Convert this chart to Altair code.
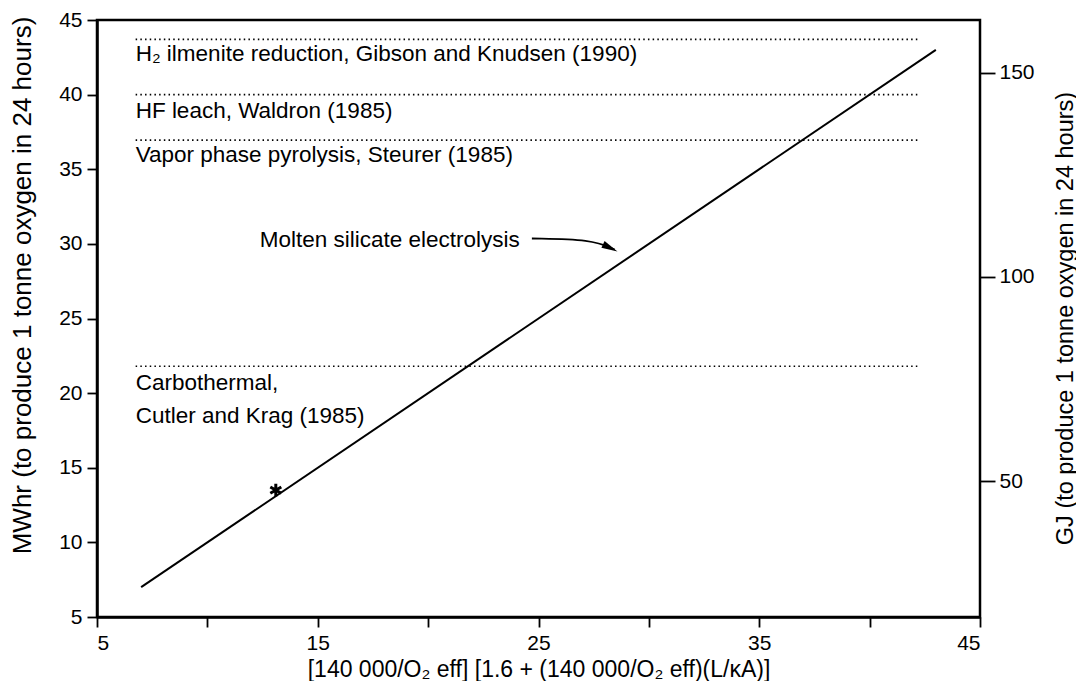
import altair as alt
import pandas as pd

FONT = "Liberation Sans"

# Main diagonal (molten silicate electrolysis)
line_x = [7, 43]
line_y = [7, 43]

# Reference processes (horizontal dotted lines)
ref_names = ["H2 ilmenite", "HF leach", "Vapor phase", "Carbothermal"]
ref_y = [43.7, 40.0, 36.95, 21.8]
ref_x_start = [6.75, 6.75, 6.75, 6.75]
ref_x_end = [42.3, 42.3, 42.3, 42.3]

# Labels
label_text = [
    "H\u2082 ilmenite reduction, Gibson and Knudsen (1990)",
    "HF leach, Waldron (1985)",
    "Vapor phase pyrolysis, Steurer (1985)",
    "Carbothermal,",
    "Cutler and Krag (1985)",
]
label_x = [6.75, 6.75, 6.75, 6.75, 6.75]
label_y = [42.75, 38.9, 35.95, 20.65, 18.45]

# Arrow annotation
arrow_label = "Molten silicate electrolysis"
arrow_label_x = 24.15
arrow_label_y = 30.25
arrow_x = [24.7, 27.4, 28.45]
arrow_y = [30.36, 30.30, 29.62]
arrow_order = [0, 1, 2]
arrow_head_x = [28.25]
arrow_head_y = [29.73]

# Asterisk point
star_x = [13.1]
star_y = [13.5]

# Axis ticks
x_ticks = [5, 10, 15, 20, 25, 30, 35, 40, 45]
y_ticks = [5, 10, 15, 20, 25, 30, 35, 40, 45]
gj_ticks = [50, 100, 150]
gj_domain = [16.7, 162.9]

x_title = "[140 000/O\u2082 eff] [1.6 + (140 000/O\u2082 eff)(L/\u03baA)]"
y_title = "MWhr (to produce 1 tonne oxygen in 24 hours)"
gj_title = "GJ (to produce 1 tonne oxygen in 24 hours)"

xs = alt.Scale(domain=[5, 45], nice=False, zero=False)
ys = alt.Scale(domain=[5, 45], nice=False, zero=False)

x_axis = alt.Axis(
    values=x_ticks,
    labelExpr="datum.value % 10 == 5 ? datum.label : ''",
    title=x_title,
    tickSize=10, tickWidth=1.8, tickColor="black",
    domainColor="black", domainWidth=2.5,
    labelFont=FONT, labelFontSize=21, labelColor="black", labelPadding=5,
    titleFont=FONT, titleFontSize=23, titleFontWeight="normal", titleColor="black",
    titleY=52, titleBaseline="middle", grid=False,
)
y_axis = alt.Axis(
    values=y_ticks,
    title=y_title,
    tickSize=10, tickWidth=1.8, tickColor="black",
    domainColor="black", domainWidth=2.5,
    labelFont=FONT, labelFontSize=21, labelColor="black", labelPadding=5,
    titleFont=FONT, titleFontSize=26, titleFontWeight="normal", titleColor="black",
    titleX=-75, titleY=265, titleAngle=270, titleAlign="center", titleBaseline="middle",
    grid=False,
)

line_df = pd.DataFrame({"x": line_x, "y": line_y})
line = alt.Chart(line_df).mark_line(color="black", strokeWidth=2).encode(
    x=alt.X("x:Q", scale=xs, axis=x_axis),
    y=alt.Y("y:Q", scale=ys, axis=y_axis),
)

ref_df = pd.DataFrame({"name": ref_names, "y": ref_y, "x": ref_x_start, "x2": ref_x_end})
refs = alt.Chart(ref_df).mark_rule(color="black", strokeWidth=1.6, strokeDash=[1.5, 3.2]).encode(
    x=alt.X("x:Q", scale=xs), x2="x2:Q", y=alt.Y("y:Q", scale=ys)
)

lab_df = pd.DataFrame({"t": label_text, "x": label_x, "y": label_y})
labels = alt.Chart(lab_df).mark_text(
    align="left", baseline="middle", font=FONT, fontSize=22.5, color="black"
).encode(x=alt.X("x:Q", scale=xs), y=alt.Y("y:Q", scale=ys), text="t:N")

arrow_lab_df = pd.DataFrame({"t": [arrow_label], "x": [arrow_label_x], "y": [arrow_label_y]})
arrow_lab = alt.Chart(arrow_lab_df).mark_text(
    align="right", baseline="middle", font=FONT, fontSize=22.5, color="black"
).encode(x=alt.X("x:Q", scale=xs), y=alt.Y("y:Q", scale=ys), text="t:N")

arrow_df = pd.DataFrame({"x": arrow_x, "y": arrow_y, "o": arrow_order})
arrow = alt.Chart(arrow_df).mark_line(color="black", strokeWidth=1.8, interpolate="basis").encode(
    x=alt.X("x:Q", scale=xs), y=alt.Y("y:Q", scale=ys), order="o:Q"
)
head_df = pd.DataFrame({"x": arrow_head_x, "y": arrow_head_y})
head = alt.Chart(head_df).mark_point(
    shape="M-1,-0.45L1,0L-1,0.45Z", angle=26, size=260, filled=True, color="black", opacity=1
).encode(x=alt.X("x:Q", scale=xs), y=alt.Y("y:Q", scale=ys))

star_df = pd.DataFrame({"x": star_x, "y": star_y})
star = alt.Chart(star_df).mark_point(
    shape="M0,-1L0,1M-0.87,-0.5L0.87,0.5M-0.87,0.5L0.87,-0.5",
    size=160, strokeWidth=3, color="black", filled=False, opacity=1,
).encode(x=alt.X("x:Q", scale=xs), y=alt.Y("y:Q", scale=ys))

gj_df = pd.DataFrame({"g": gj_ticks})
gj = alt.Chart(gj_df).mark_point(opacity=0).encode(
    y=alt.Y(
        "g:Q",
        scale=alt.Scale(domain=gj_domain, nice=False, zero=False),
        axis=alt.Axis(
            orient="right", values=gj_ticks, title=gj_title,
            tickSize=15, tickWidth=1.8, tickColor="black",
            domain=False,
            labelFont=FONT, labelFontSize=21, labelColor="black", labelPadding=4,
            titleFont=FONT, titleFontSize=23.5, titleFontWeight="normal", titleColor="black",
            titleAngle=270, titleX=85, titleY=298, titleAlign="center", titleBaseline="middle",
            grid=False,
        ),
    )
)

main = alt.layer(refs, line, arrow, head, star, labels, arrow_lab)
chart = (
    alt.layer(main, gj)
    .resolve_scale(y="independent")
    .properties(
        width=883, height=597,
        autosize=alt.AutoSizeParams(type="none"),
        padding={"left": 89, "top": 12, "right": 96, "bottom": 64},
        background="white",
    )
    .configure_view(stroke="black", strokeWidth=2.5)
)

chart.save("out.html", embed_options={"renderer": "svg", "actions": False})
